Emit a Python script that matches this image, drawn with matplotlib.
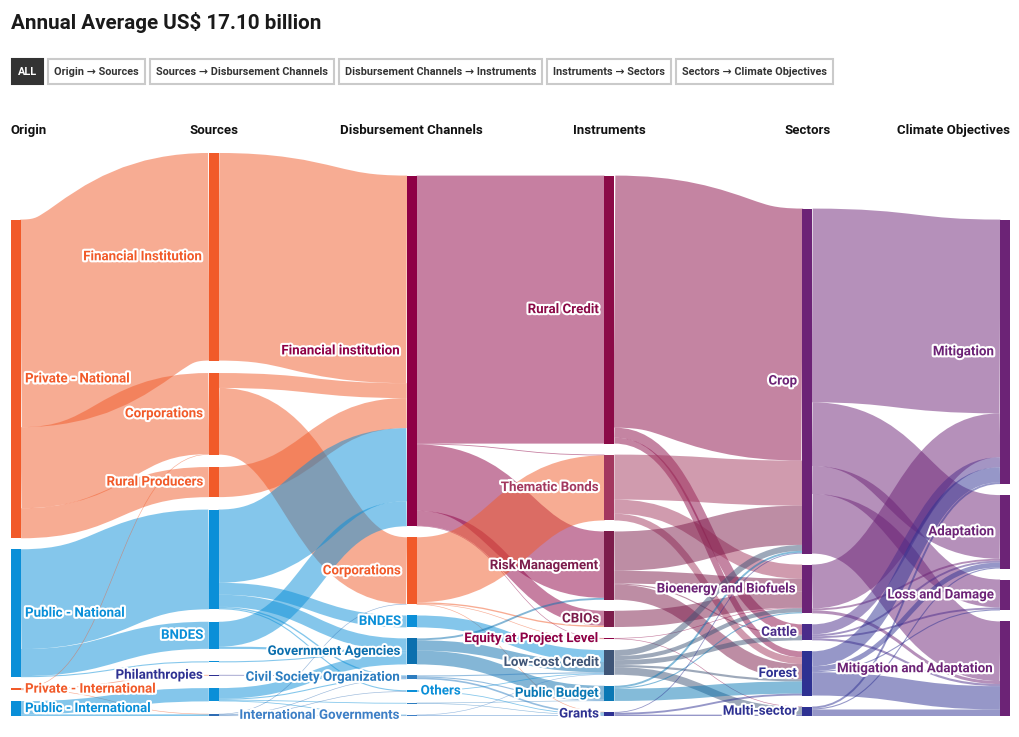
import matplotlib
matplotlib.use("Agg")
import matplotlib.pyplot as plt
from matplotlib.path import Path
from matplotlib.patches import PathPatch, Rectangle
import matplotlib.patheffects as pe

FONT = ["Roboto", "DejaVu Sans"]
plt.rcParams["font.family"] = FONT

title = "Annual Average US$ 17.10 billion"
tabs = ["ALL", "Origin → Sources", "Sources → Disbursement Channels",
        "Disbursement Channels → Instruments", "Instruments → Sectors",
        "Sectors → Climate Objectives"]
stages = ["Origin", "Sources", "Disbursement Channels", "Instruments",
          "Sectors", "Climate Objectives"]

# nodes per column, top to bottom
origin = ["Private - National", "Public - National",
          "Private - International", "Public - International"]
sources = ["Financial Institution", "Corporations", "Rural Producers",
           "Federal Government", "BNDES", "State Government",
           "Philanthropies", "Multilateral Funds", "International Funds"]
channels = ["Financial institution", "Corporations", "BNDES",
            "Government Agencies", "Civil Society Organization", "Others",
            "Multilateral Institutions", "International Governments"]
instruments = ["Rural Credit", "Thematic Bonds", "Risk Management", "CBIOs",
               "Equity at Project Level", "Low-cost Credit", "Public Budget",
               "Grants"]
sectors = ["Crop", "Bioenergy and Biofuels", "Cattle", "Forest", "Multi-sector"]
objectives = ["Mitigation", "Adaptation", "Loss and Damage",
              "Mitigation and Adaptation"]
columns = [origin, sources, channels, instruments, sectors, objectives]

# nodes drawn without a label in the original
unlabeled = {(1, "Federal Government"), (1, "State Government"),
             (1, "Multilateral Funds"), (1, "International Funds"),
             (2, "Multilateral Institutions")}

# flows, US$ billion per year
origin_sources = [
    ("Private - National", "Financial Institution", 7.66),
    ("Private - National", "Corporations", 2.99),
    ("Private - National", "Rural Producers", 1.11),
    ("Public - National", "Federal Government", 3.68),
    ("Public - National", "BNDES", 1.00),
    ("Public - National", "State Government", 0.04),
    ("Private - International", "Corporations", 0.02),
    ("Private - International", "Philanthropies", 0.03),
    ("Private - International", "International Funds", 0.02),
    ("Public - International", "Multilateral Funds", 0.49),
    ("Public - International", "International Funds", 0.06),
]
sources_channels = [
    ("Financial Institution", "Financial institution", 7.66),
    ("Corporations", "Financial institution", 0.55),
    ("Corporations", "Corporations", 2.46),
    ("Rural Producers", "Financial institution", 1.11),
    ("Federal Government", "Financial institution", 2.70),
    ("Federal Government", "BNDES", 0.44),
    ("Federal Government", "Government Agencies", 0.45),
    ("Federal Government", "Civil Society Organization", 0.05),
    ("Federal Government", "Others", 0.04),
    ("BNDES", "Financial institution", 0.92),
    ("BNDES", "Government Agencies", 0.08),
    ("State Government", "Government Agencies", 0.04),
    ("Philanthropies", "Civil Society Organization", 0.03),
    ("Multilateral Funds", "Government Agencies", 0.39),
    ("Multilateral Funds", "Civil Society Organization", 0.04),
    ("Multilateral Funds", "Multilateral Institutions", 0.03),
    ("Multilateral Funds", "International Governments", 0.03),
    ("International Funds", "Corporations", 0.02),
    ("International Funds", "Civil Society Organization", 0.02),
    ("International Funds", "Others", 0.02),
    ("International Funds", "International Governments", 0.02),
]
channels_instruments = [
    ("Financial institution", "Rural Credit", 9.89),
    ("Financial institution", "Thematic Bonds", 0.03),
    ("Financial institution", "Risk Management", 2.45),
    ("Financial institution", "CBIOs", 0.55),
    ("Financial institution", "Equity at Project Level", 0.02),
    ("Corporations", "Thematic Bonds", 2.40),
    ("Corporations", "CBIOs", 0.05),
    ("Corporations", "Equity at Project Level", 0.02),
    ("Corporations", "Grants", 0.01),
    ("BNDES", "Low-cost Credit", 0.44),
    ("Government Agencies", "Risk Management", 0.07),
    ("Government Agencies", "Low-cost Credit", 0.38),
    ("Government Agencies", "Public Budget", 0.51),
    ("Civil Society Organization", "Low-cost Credit", 0.04),
    ("Civil Society Organization", "Public Budget", 0.04),
    ("Civil Society Organization", "Grants", 0.06),
    ("Others", "Low-cost Credit", 0.03),
    ("Others", "Grants", 0.03),
    ("Multilateral Institutions", "Public Budget", 0.01),
    ("Multilateral Institutions", "Grants", 0.02),
    ("International Governments", "Low-cost Credit", 0.02),
    ("International Governments", "Grants", 0.03),
]
instruments_sectors = [
    ("Rural Credit", "Crop", 9.30),
    ("Rural Credit", "Cattle", 0.37),
    ("Rural Credit", "Forest", 0.22),
    ("Thematic Bonds", "Crop", 1.66),
    ("Thematic Bonds", "Bioenergy and Biofuels", 0.52),
    ("Thematic Bonds", "Forest", 0.25),
    ("Risk Management", "Crop", 1.45),
    ("Risk Management", "Bioenergy and Biofuels", 0.47),
    ("Risk Management", "Cattle", 0.04),
    ("Risk Management", "Forest", 0.56),
    ("CBIOs", "Bioenergy and Biofuels", 0.60),
    ("Equity at Project Level", "Bioenergy and Biofuels", 0.02),
    ("Equity at Project Level", "Multi-sector", 0.02),
    ("Low-cost Credit", "Crop", 0.22),
    ("Low-cost Credit", "Bioenergy and Biofuels", 0.15),
    ("Low-cost Credit", "Cattle", 0.18),
    ("Low-cost Credit", "Forest", 0.08),
    ("Low-cost Credit", "Multi-sector", 0.28),
    ("Public Budget", "Crop", 0.07),
    ("Public Budget", "Bioenergy and Biofuels", 0.04),
    ("Public Budget", "Forest", 0.45),
    ("Grants", "Crop", 0.03),
    ("Grants", "Forest", 0.07),
    ("Grants", "Multi-sector", 0.05),
]
sectors_objectives = [
    ("Crop", "Mitigation", 7.15),
    ("Crop", "Adaptation", 2.35),
    ("Crop", "Loss and Damage", 1.03),
    ("Crop", "Mitigation and Adaptation", 2.20),
    ("Bioenergy and Biofuels", "Mitigation", 1.62),
    ("Bioenergy and Biofuels", "Adaptation", 0.07),
    ("Bioenergy and Biofuels", "Mitigation and Adaptation", 0.11),
    ("Cattle", "Mitigation", 0.37),
    ("Cattle", "Adaptation", 0.07),
    ("Cattle", "Loss and Damage", 0.07),
    ("Cattle", "Mitigation and Adaptation", 0.08),
    ("Forest", "Mitigation", 0.55),
    ("Forest", "Adaptation", 0.18),
    ("Forest", "Loss and Damage", 0.04),
    ("Forest", "Mitigation and Adaptation", 0.86),
    ("Multi-sector", "Mitigation", 0.07),
    ("Multi-sector", "Adaptation", 0.04),
    ("Multi-sector", "Mitigation and Adaptation", 0.24),
]
flows = [origin_sources, sources_channels, channels_instruments,
         instruments_sectors, sectors_objectives]

# colours
ORANGE, BLUE, NAVY, PLUM = "#F15A29", "#0A8FD8", "#2E3192", "#6C2376"
colors = {
    0: {"Private - National": ORANGE, "Public - National": BLUE,
        "Private - International": ORANGE, "Public - International": BLUE},
    1: {"Financial Institution": ORANGE, "Corporations": ORANGE,
        "Rural Producers": ORANGE, "Federal Government": BLUE, "BNDES": BLUE,
        "State Government": BLUE, "Philanthropies": NAVY,
        "Multilateral Funds": BLUE, "International Funds": "#2E6DB4"},
    2: {"Financial institution": "#8E0045", "Corporations": ORANGE,
        "BNDES": BLUE, "Government Agencies": "#0B6FAE",
        "Civil Society Organization": "#2C7DC0", "Others": BLUE,
        "Multilateral Institutions": "#2C7DC0",
        "International Governments": "#3D7FC6"},
    3: {"Rural Credit": "#8B0A47", "Thematic Bonds": "#A3385F",
        "Risk Management": "#7C1C4B", "CBIOs": "#7C1C4B",
        "Equity at Project Level": "#8E0045", "Low-cost Credit": "#3F5577",
        "Public Budget": "#0A78B5", "Grants": NAVY},
    4: {"Crop": PLUM, "Bioenergy and Biofuels": PLUM, "Cattle": "#4B2C8A",
        "Forest": NAVY, "Multi-sector": NAVY},
    5: {n: PLUM for n in objectives},
}

# ---- layout (pixel space) ----
W, H = 1020, 737
k = 27.1            # px per billion
bottom = 716
node_w = 10
col_x = [11 + i * (1000 - 11) / 5 for i in range(6)]
pads = [11, 12.45, 11, 11, 11, 11]

inflow, outflow = {}, {}
links = []
for c, fl in enumerate(flows):
    for s, t, v in fl:
        a, b = (c, s), (c + 1, t)
        outflow[a] = outflow.get(a, 0) + v
        inflow[b] = inflow.get(b, 0) + v
        links.append([a, b, v, None, None])

nodes = {}
for c, names in enumerate(columns):
    vals = [max(inflow.get((c, n), 0), outflow.get((c, n), 0)) for n in names]
    total = sum(vals) * k + pads[c] * (len(names) - 1)
    y = bottom - total
    for n, v in zip(names, vals):
        nodes[(c, n)] = {"y0": y, "y1": y + v * k, "x0": col_x[c]}
        y += v * k + pads[c]

# stack link ends at each node (d3-sankey ordering)
for key, nd in nodes.items():
    outs = sorted([l for l in links if l[0] == key], key=lambda l: nodes[l[1]]["y0"])
    y = nd["y0"]
    for l in outs:
        l[3] = y + l[2] * k / 2
        y += l[2] * k
    ins = sorted([l for l in links if l[1] == key], key=lambda l: nodes[l[0]]["y0"])
    y = nd["y0"]
    for l in ins:
        l[4] = y + l[2] * k / 2
        y += l[2] * k

fig = plt.figure(figsize=(W / 100, H / 100), dpi=100)
ax = fig.add_axes([0, 0, 1, 1])
ax.set_xlim(0, W)
ax.set_ylim(H, 0)
ax.axis("off")

for a, b, v, ys, yt in links:
    x0 = nodes[a]["x0"] + node_w
    x1 = nodes[b]["x0"]
    xm = (x0 + x1) / 2
    path = Path([(x0, ys), (xm, ys), (xm, yt), (x1, yt)],
                [Path.MOVETO, Path.CURVE4, Path.CURVE4, Path.CURVE4])
    ax.add_patch(PathPatch(path, fill=False, edgecolor=colors[a[0]][a[1]],
                           lw=max(v * k, 0.6) * 0.72, alpha=0.5,
                           capstyle="butt", zorder=1))

halo = [pe.withStroke(linewidth=3, foreground="white")]
right_side = {(2, "Others")}
for (c, n), nd in nodes.items():
    col = colors[c][n]
    ax.add_patch(Rectangle((nd["x0"], nd["y0"]), node_w,
                           max(nd["y1"] - nd["y0"], 0.8),
                           facecolor=col, edgecolor="none", zorder=2))
    if (c, n) in unlabeled:
        continue
    yc = (nd["y0"] + nd["y1"]) / 2
    if c == 0 or (c, n) in right_side:
        x, ha = nd["x0"] + node_w + 4, "left"
    else:
        x, ha = nd["x0"] - 5, "right"
    ax.text(x, yc, n, ha=ha, va="center", fontsize=9.6, fontweight="bold",
            color=col, path_effects=halo, zorder=4)

# column headers
for i, s in enumerate(stages):
    if i == 0:
        x, ha = col_x[i], "left"
    elif i == len(stages) - 1:
        x, ha = col_x[i] + node_w, "right"
    else:
        x, ha = col_x[i] + node_w / 2, "center"
    ax.text(x, 130, s, ha=ha, va="center", fontsize=9.5, fontweight="bold",
            color="#111111")

ax.text(11, 22, title, ha="left", va="center", fontsize=14.9,
        fontweight="bold", color="#1a1a1a")

# tab buttons
renderer = fig.canvas.get_renderer()
x = 11
for i, t in enumerate(tabs):
    active = i == 0
    txt = ax.text(x + 7, 71.5, t, ha="left", va="center", fontsize=7.8,
                  fontweight="bold", color="white" if active else "#333333",
                  zorder=6)
    w = txt.get_window_extent(renderer).width + 14
    ax.add_patch(Rectangle((x + 1, 59), w - 2, 25, zorder=5,
                           facecolor="#333333" if active else "white",
                           edgecolor="#333333" if active else "#cacaca",
                           lw=1.5))
    x += w + 3

fig.savefig("out.png", dpi=100, facecolor="white")
